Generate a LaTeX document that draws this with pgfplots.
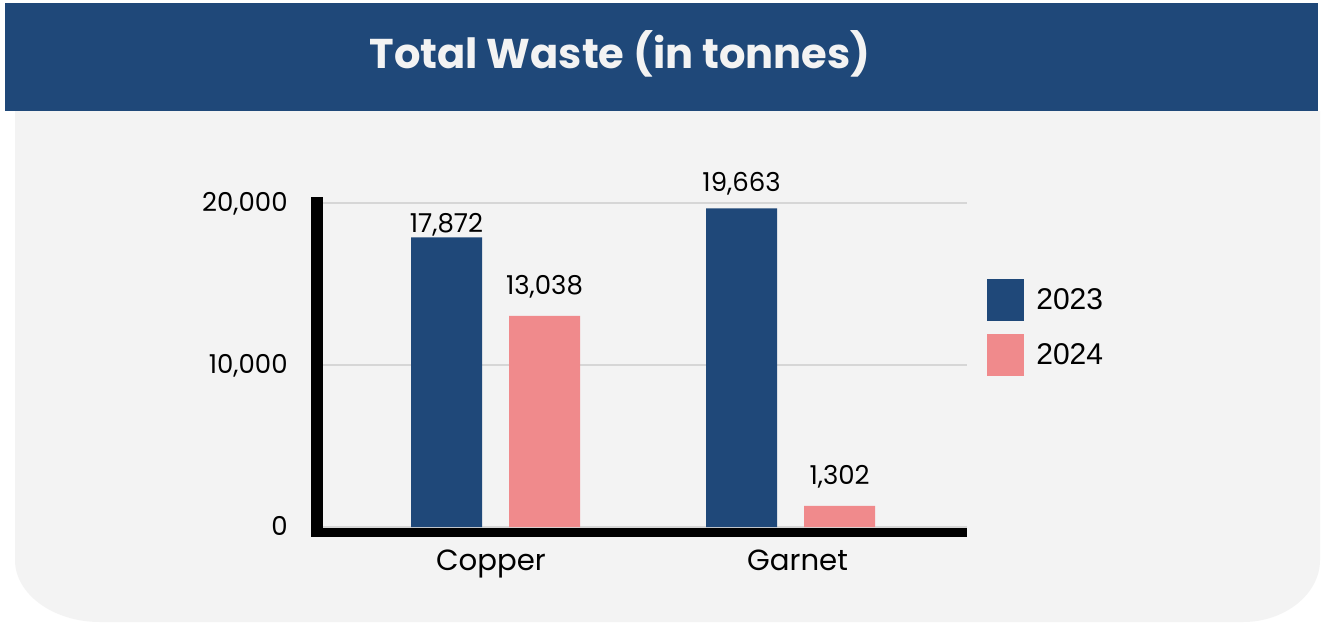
\documentclass[border=0pt]{standalone}
\usepackage{pgfplots}
\pgfplotsset{compat=1.18}
\usepackage{pgfplotstable}
\usepackage{fontspec}
\setmainfont{Poppins}
\newfontfamily\legfont{Liberation Sans}
\definecolor{banner}{HTML}{1F4879}
\definecolor{barblue}{HTML}{1F4879}
\definecolor{barpink}{HTML}{F08A8C}
\definecolor{panel}{HTML}{F3F3F3}
\definecolor{gridc}{HTML}{D6D6D6}
\definecolor{titlec}{HTML}{F3F3F3}

\pgfplotstableread{
x y dy
0 17872 2.5
1 19663 8.5
}\dataA
\pgfplotstableread{
x y dy
0 13038 10.5
1 1302 10.5
}\dataB

\begin{document}
\begin{tikzpicture}
\begin{scope}[x=0.5pt,y=-0.5pt]
\fill[white] (0,0) rectangle (1323,622);
\fill[panel] (15,111) -- (15,560) .. controls (15,594) and (53,622) .. (100,622)
  -- (1243,622) .. controls (1285,622) and (1320,594) .. (1320,560) -- (1320,111) -- cycle;
\fill[banner] (5,3) rectangle (1318,111);
\node[anchor=base, text=titlec, font=\bfseries\fontsize{20.8}{24}\selectfont, inner sep=0pt] at (620,68) {Total Waste (in tonnes)};
\end{scope}

\begin{axis}[
  at={(161.5pt,-263.5pt)}, anchor=south west,
  scale only axis, width=322pt, height=165pt,
  xmin=-0.5847, xmax=1.598, ymin=0, ymax=20370,
  clip=false,
  axis line style={draw=none},
  major tick length=0pt,
  xtick pos=bottom, ytick pos=left,
  ytick={0,10000,20000},
  xtick={-0.0153,1.0237}, xticklabels={Copper,Garnet},
  scaled y ticks=false,
  /pgf/number format/1000 sep={,},
  /pgf/number format/assume math mode=true,
  ymajorgrids,
  grid style={gridc, line width=1pt},
  yticklabel style={font=\fontsize{13}{15}\selectfont, anchor=base east, inner sep=0pt, xshift=-17.5pt, yshift=-4pt},
  xticklabel style={font=\fontsize{14.6}{16}\selectfont, anchor=base, inner sep=0pt, yshift=-21.5pt},
  ybar, bar width=35.5pt,
  nodes near coords,
  visualization depends on={\thisrow{dy}\as\dy},
  every node near coord/.append style={font=\fontsize{13}{15}\selectfont, anchor=base, inner sep=0pt, yshift=\dy},
  legend style={at={(1.031,0.7515)}, anchor=north west, draw=none, fill=none,
    font=\legfont\fontsize{15}{18}\selectfont, inner sep=0pt, row sep=6.5pt,
    nodes={inner sep=0pt}, column sep=6pt},
  legend cell align=left,
  legend image code/.code={\fill[#1] (0pt,-10.5pt) rectangle (18.5pt,10.5pt);},
]
\addplot[fill=barblue, draw=none, bar shift=-24.5pt] table[x=x,y=y] {\dataA};
\addlegendentry{2023}
\addplot[fill=barpink, draw=none, bar shift=24.5pt] table[x=x,y=y] {\dataB};
\addlegendentry{2024}
\end{axis}

\begin{scope}[x=0.5pt,y=-0.5pt]
\fill[black] (311,197) rectangle (323,537);
\fill[black] (311,528) rectangle (967,537);
\end{scope}
\pgfresetboundingbox
\path (0,0) rectangle (661.5pt,-311pt);
\end{tikzpicture}
\end{document}
